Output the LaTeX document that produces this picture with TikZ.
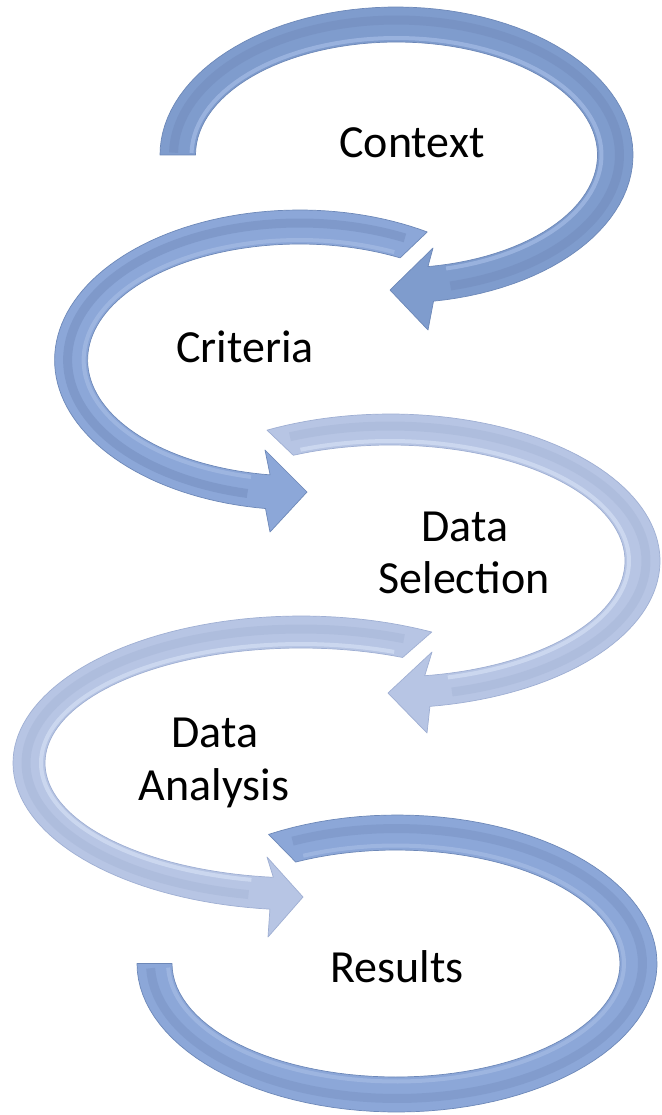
\documentclass[tikz,border=0pt]{standalone}
\usepackage{fontspec}
\setmainfont{Carlito}
\definecolor{darkfill}{HTML}{7F9CCD}
\definecolor{darkedge}{HTML}{6D88B8}
\definecolor{darkstripe}{HTML}{7089BA}
\definecolor{darkhi}{HTML}{A3BAE4}
\definecolor{midfill}{HTML}{8CA7D8}
\definecolor{lightfill}{HTML}{B7C5E4}
\definecolor{lightedge}{HTML}{9FAFD3}
\definecolor{lightstripe}{HTML}{A5B4D6}
\definecolor{lighthi}{HTML}{D3DEF3}
\tikzset{
  darkband/.style={fill=darkfill, draw=darkedge, line width=0.7pt, line join=round},
  midband/.style={fill=midfill, draw=darkedge, line width=0.7pt, line join=round},
  lightband/.style={fill=lightfill, draw=lightedge, line width=0.7pt, line join=round},
  stripe/.style={line width=9pt, opacity=0.45},
  hilite/.style={line width=4pt, opacity=0.75},
  lbl/.style={anchor=base, inner sep=0pt, font=\fontsize{46}{53}\selectfont, text=black}
}
\begin{document}
\begin{tikzpicture}[x=1pt,y=-1pt]
\useasboundingbox (0,0) rectangle (661,1115);
\fill[white] (0,0) rectangle (661,1115);

% ---- Context arrow
\path[darkband] plot[domain=180:441, samples=90] ({396.5+236.5*cos(\x)},{155+148*sin(\x)})
  -- (428,330) -- (390,290) -- (433,248)
  -- plot[domain=441:180, samples=90] ({396.5+201*cos(\x)},{155+113*sin(\x)}) -- cycle;
\draw[stripe, darkstripe] plot[domain=181:436, samples=90] ({396.5+223*cos(\x)},{155+135*sin(\x)});
\draw[hilite, darkhi] plot[domain=181:436, samples=90] ({396.5+205*cos(\x)},{155+117*sin(\x)});

% ---- Criteria arrow
\path[midband] plot[domain=301.4:98, samples=90] ({299.6+245*cos(\x)},{360+150*sin(\x)})
  -- (270,532) -- (307,492) -- (265,450)
  -- plot[domain=98:298.3, samples=90] ({299.6+212*cos(\x)},{360+116*sin(\x)}) -- cycle;
\draw[stripe, darkstripe] plot[domain=297:103, samples=90] ({299.6+232*cos(\x)},{360+137*sin(\x)});
\draw[hilite, darkhi] plot[domain=296:103, samples=90] ({299.6+216*cos(\x)},{360+120*sin(\x)});

% ---- Data Selection arrow
\path[lightband] plot[domain=242.9:441.5, samples=90] ({390+270*cos(\x)},{561+147*sin(\x)})
  -- (427,733) -- (388,693) -- (432,652)
  -- plot[domain=441.5:245.7, samples=90] ({390+235*cos(\x)},{561+116*sin(\x)}) -- cycle;
\draw[stripe, lightstripe] plot[domain=247:436, samples=90] ({390+256*cos(\x)},{561+135*sin(\x)});
\draw[hilite, lighthi] plot[domain=248:436, samples=90] ({390+239*cos(\x)},{561+120*sin(\x)});

% ---- Data Analysis arrow
\path[lightband] plot[domain=297:96.2, samples=90] ({301+288*cos(\x)},{763+147*sin(\x)})
  -- (268,937) -- (303,897) -- (267,857)
  -- plot[domain=96.2:293.4, samples=90] ({301+256*cos(\x)},{763+115*sin(\x)}) -- cycle;
\draw[stripe, lightstripe] plot[domain=292:101, samples=90] ({301+275*cos(\x)},{763+134*sin(\x)});
\draw[hilite, lighthi] plot[domain=291:101, samples=90] ({301+260*cos(\x)},{763+119*sin(\x)});

% ---- Results band
\path[midband] plot[domain=240.4:540, samples=100] ({397+260*cos(\x)},{963.5+148.5*sin(\x)})
  -- plot[domain=540:243.4, samples=100] ({396+224*cos(\x)},{963.5+113.5*sin(\x)}) -- cycle;
\draw[stripe, darkstripe, opacity=0.35] plot[domain=245:538, samples=100] ({396.5+246*cos(\x)},{963.5+135*sin(\x)});
\draw[hilite, darkhi] plot[domain=246:538, samples=100] ({396+228*cos(\x)},{963.5+118*sin(\x)});

% ---- labels
\node[lbl] (context) at (412,158) {Context};
\node[lbl] (criteria) at (245,362) {Criteria};
\node[lbl] (seldata) at (465,541) {Data};
\node[lbl] (selection) at (464,593) {Selection};
\node[lbl] (anadata) at (215,747) {Data};
\node[lbl] (analysis) at (214,800) {Analysis};
\node[lbl] (results) at (397,982) {Results};
\end{tikzpicture}
\end{document}
